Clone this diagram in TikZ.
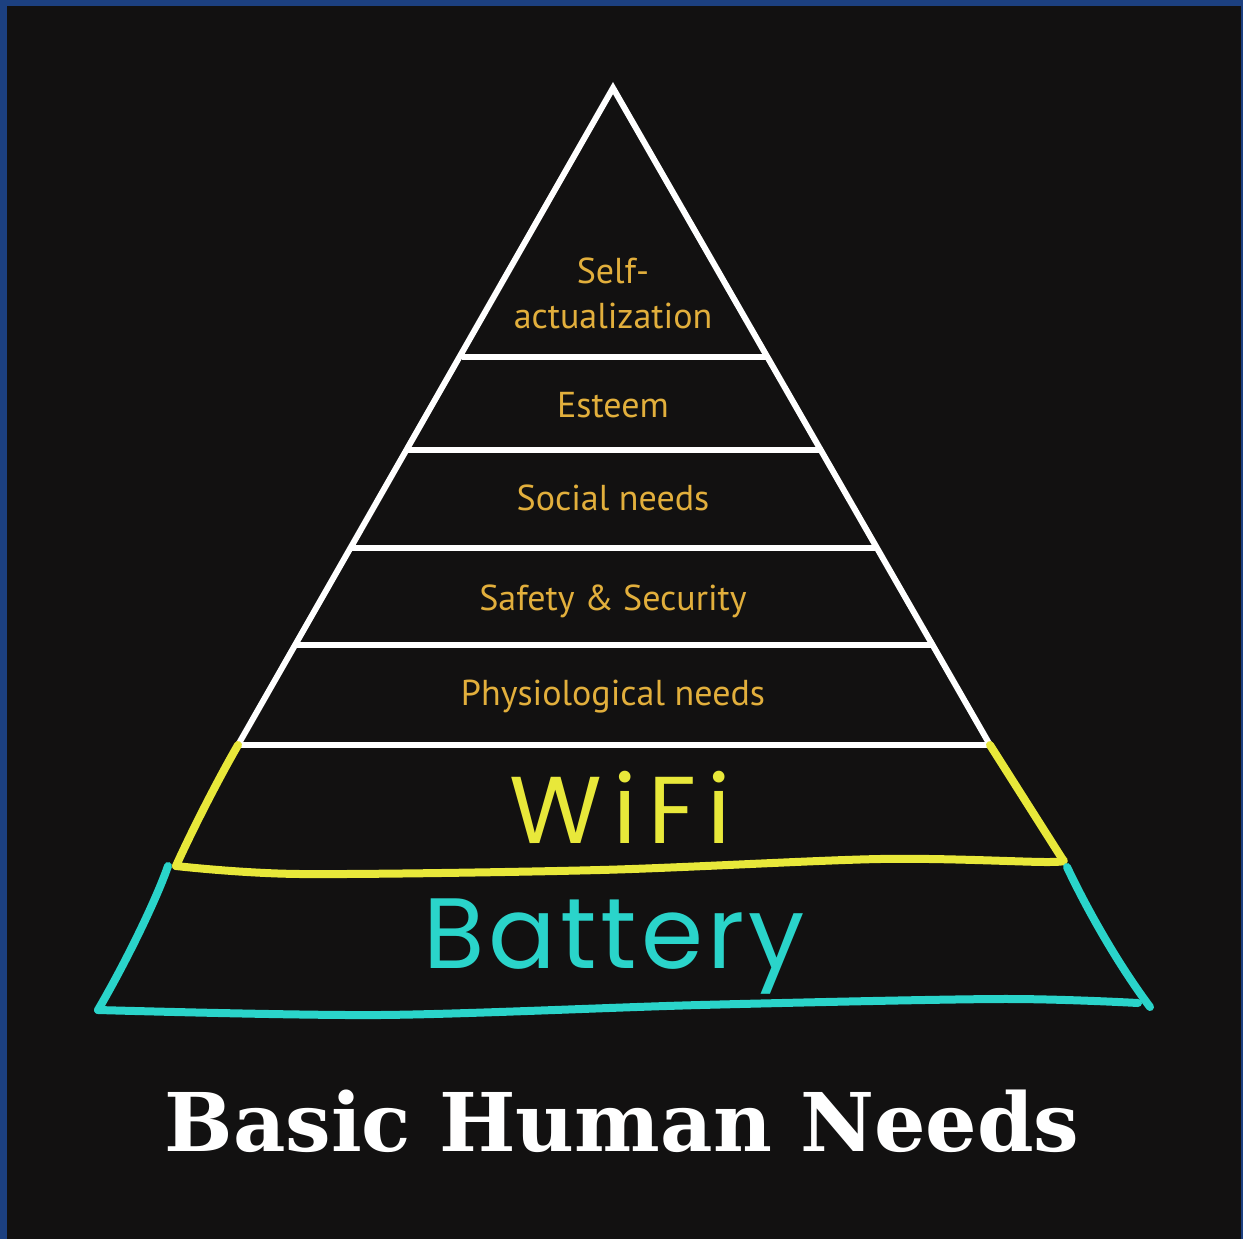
\documentclass[tikz,border=0pt]{standalone}
\usepackage{fontspec}
\newfontfamily\labelfont{PT Sans}
\newfontfamily\titlefont{DejaVu Serif}
\newfontfamily\batthand[LetterSpace=4]{Poppins}
\newfontfamily\wifihand[LetterSpace=12]{Poppins}
\definecolor{bgdark}{RGB}{18,17,17}
\definecolor{frameblue}{RGB}{28,64,128}
\definecolor{gold}{RGB}{226,175,60}
\definecolor{wifiyellow}{RGB}{232,232,58}
\definecolor{battcyan}{RGB}{42,212,202}
\begin{document}
\begin{tikzpicture}[x=1pt,y=-1pt,
  tier/.style={draw=white,line width=6pt},
  lbl/.style={text=gold,font=\labelfont\fontsize{36}{44}\selectfont,inner sep=0pt,anchor=base},
  wifiline/.style={draw=wifiyellow,line width=8pt,line cap=round,line join=round},
  battline/.style={draw=battcyan,line width=8pt,line cap=round,line join=round}]
\useasboundingbox (0,0) rectangle (1243,1239);
\fill[frameblue] (0,0) rectangle (1243,1239);
\fill[bgdark] (7,6) rectangle (1241,1239);
% pyramid
\coordinate (apex) at (613,88);
\coordinate (bl) at (238,745);
\coordinate (br) at (990,745);
\draw[tier,line join=miter] (bl) -- (apex) -- (br);
\draw[tier] (462,357) -- (766,357);
\draw[tier] (408,450) -- (819,450);
\draw[tier] (352,548) -- (876,548);
\draw[tier] (296,645) -- (933,645);
\draw[tier] (bl) -- (br);
% WiFi tier
\coordinate (wl) at (176,866);
\coordinate (wr) at (1063,860);
\draw[wifiline] (bl) .. controls (215,785) and (190,835) .. (wl);
\draw[wifiline] (br) -- (wr);
\draw[wifiline] plot[smooth] coordinates {(wl) (300,874) (600,870) (880,859) (1045,862) (wr)};
% Battery tier
\coordinate (cl) at (168,866);
\coordinate (cr) at (1067,867);
\coordinate (cbl) at (98,1010);
\coordinate (cbr) at (1150,1007);
\draw[battline] (cl) .. controls (158,895) and (130,955) .. (cbl);
\draw[battline] (cr) .. controls (1085,905) and (1115,960) .. (cbr);
\draw[battline] plot[smooth] coordinates {(cbl) (380,1015) (700,1005) (1000,999) (1138,1003)};
% labels
\node[lbl] (self) at (613,283) {Self-};
\node[lbl] (actual) at (613,328) {actualization};
\node[lbl] (esteem) at (613,417) {Esteem};
\node[lbl] (social) at (613,510) {Social needs};
\node[lbl] (safety) at (613,610) {Safety \& Security};
\node[lbl] (physio) at (613,705) {Physiological needs};
\node[text=wifiyellow,font=\wifihand\fontsize{95}{100}\selectfont,inner sep=0pt,anchor=base] (wifi) at (620,843) {WiFi};
\node[text=battcyan,font=\batthand\fontsize{100}{110}\selectfont,inner sep=0pt,anchor=base] (battery) at (614,968) {Battery};
\node[text=white,font=\titlefont\bfseries\fontsize{81}{90}\selectfont,inner sep=0pt,anchor=base] (title) at (622,1151) {Basic Human Needs};
\end{tikzpicture}
\end{document}
